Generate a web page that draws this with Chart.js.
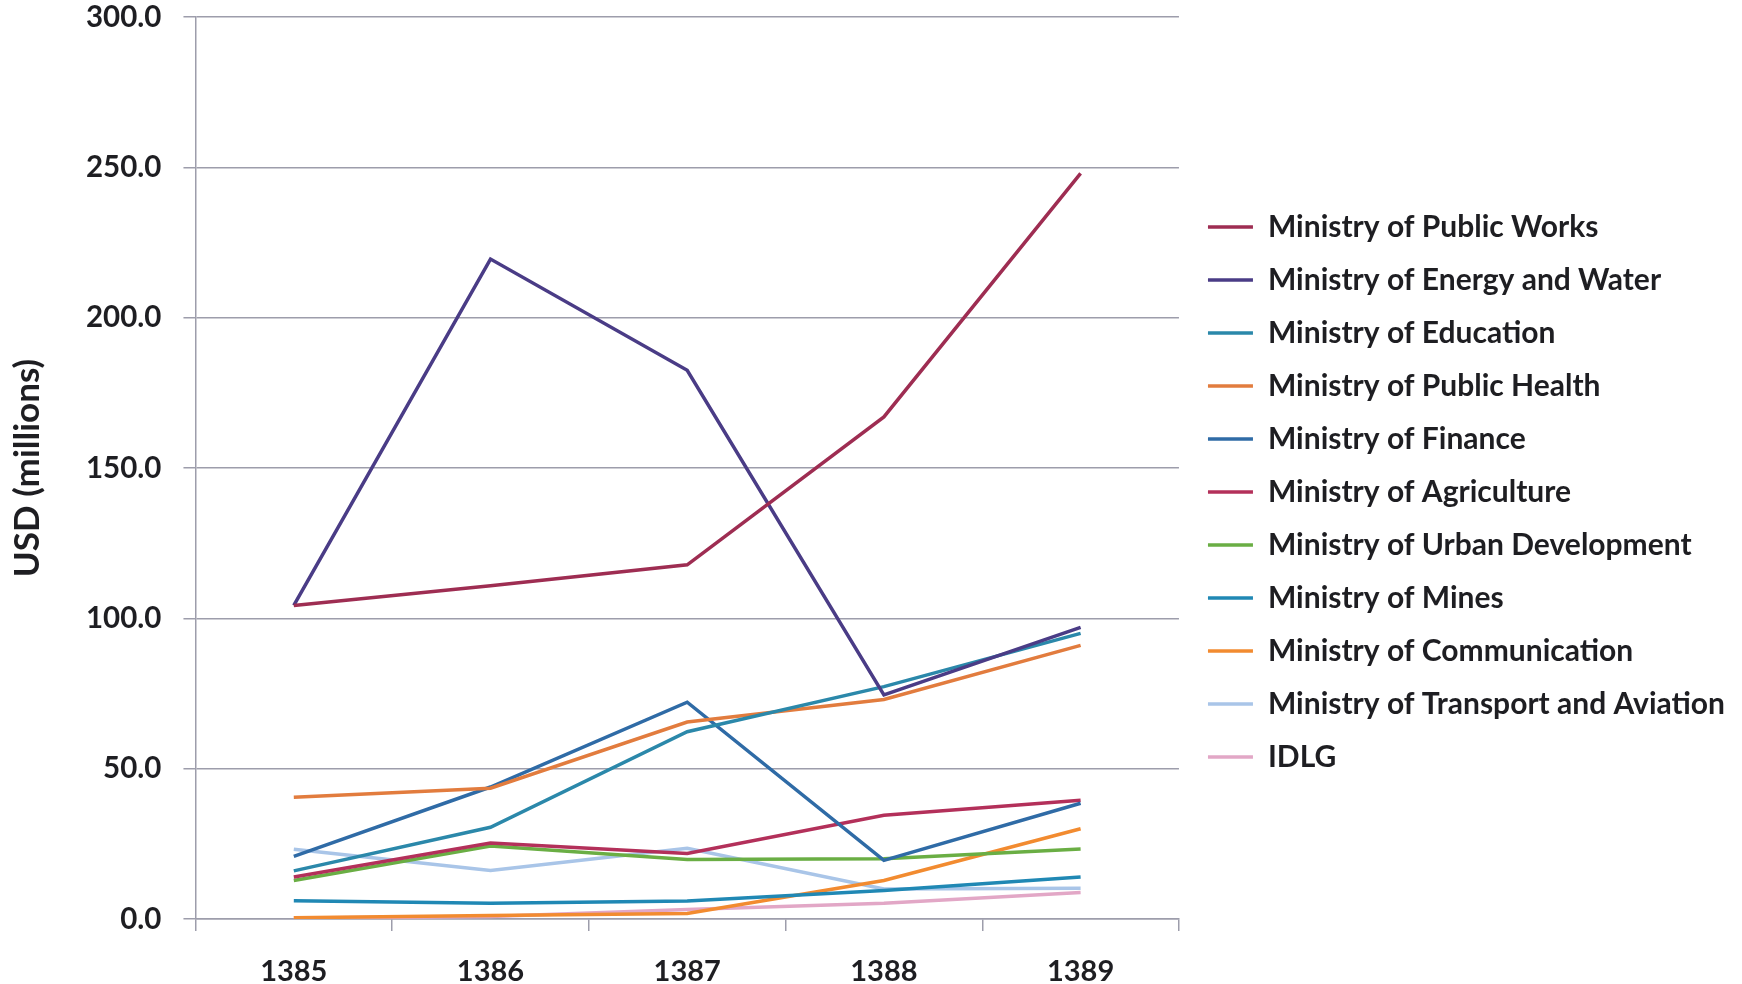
<!DOCTYPE html>
<html>
<head>
<meta charset="utf-8">
<script src="https://cdn.jsdelivr.net/npm/chart.js@4"></script>
<style>
  html, body { margin: 0; padding: 0; background: #ffffff; }
  #wrap { width: 1742px; height: 984px; position: relative; }
</style>
</head>
<body>
<div id="wrap"><canvas id="c"></canvas></div>
<script>
// ---- Data ----
const years = ['1385', '1386', '1387', '1388', '1389'];

const publicWorks    = [104.3, 110.8, 117.8, 167.0, 248.0];
const energyWater    = [104.3, 219.5, 182.5, 74.5, 97.0];
const education      = [16.0, 30.5, 62.3, 77.3, 95.0];
const publicHealth   = [40.5, 43.5, 65.5, 73.0, 91.0];
const finance        = [20.8, 43.9, 72.1, 19.5, 38.5];
const agriculture    = [14.0, 25.3, 21.8, 34.5, 39.5];
const urbanDev       = [12.8, 24.3, 19.8, 20.0, 23.3];
const mines          = [6.1, 5.2, 6.0, 9.5, 14.0];
const communication  = [0.4, 1.2, 1.8, 12.8, 30.0];
const transport      = [23.2, 16.1, 23.5, 10.0, 10.2];
const idlg           = [0.3, 0.8, 3.2, 5.2, 8.8];

const seriesNames = [
  'Ministry of Public Works',
  'Ministry of Energy and Water',
  'Ministry of Education',
  'Ministry of Public Health',
  'Ministry of Finance',
  'Ministry of Agriculture',
  'Ministry of Urban Development',
  'Ministry of Mines',
  'Ministry of Communication',
  'Ministry of Transport and Aviation',
  'IDLG'
];
const seriesValues = [publicWorks, energyWater, education, publicHealth, finance,
  agriculture, urbanDev, mines, communication, transport, idlg];
const seriesColors = ['#9e2d52', '#4a3c86', '#2b88aa', '#e27c3e', '#2f6ba6',
  '#b3305a', '#6aae44', '#2088b4', '#f28b30', '#a9c5e8', '#e2a7c6'];

const yTicks = [0, 50, 100, 150, 200, 250, 300];
const yTitle = 'USD (millions)';

const TXT = '#1e1e22';
const GRID = '#9d9dab';
const FONT = 'Lato, "Open Sans", sans-serif';

const datasets = seriesNames.map((name, i) => ({
  label: name,
  data: seriesValues[i],
  borderColor: seriesColors[i],
  backgroundColor: seriesColors[i],
  borderWidth: 3.5,
  pointRadius: 0,
  pointHoverRadius: 0,
  tension: 0,
  fill: false
}));

new Chart(document.getElementById('c'), {
  type: 'line',
  data: { labels: years, datasets },
  options: {
    responsive: true,
    maintainAspectRatio: false,
    animation: false,
    layout: { padding: { left: 0, top: 0, right: 7, bottom: 0 } },
    plugins: {
      tooltip: { enabled: false },
      legend: {
        position: 'right',
        align: 'center',
        maxWidth: 640,
        labels: {
          usePointStyle: true,
          pointStyle: 'line',
          pointStyleWidth: 45,
          padding: 23,
          color: TXT,
          font: { family: FONT, size: 30, weight: 'bold' }
        }
      }
    },
    scales: {
      x: {
        type: 'category',
        offset: true,
        grid: {
          display: true,
          drawOnChartArea: false,
          drawTicks: true,
          offset: true,
          tickLength: 12,
          color: GRID,
          lineWidth: 1.5
        },
        border: { display: true, color: GRID, width: 1.5 },
        ticks: { color: TXT, font: { family: FONT, size: 29, weight: 'bold' }, padding: 23 },
        afterFit: (s) => { s.height = 65; }
      },
      y: {
        position: 'left',
        min: 0,
        max: 300,
        afterBuildTicks: (s) => { s.ticks = yTicks.map(v => ({ value: v })); },
        ticks: {
          color: TXT,
          font: { family: FONT, size: 29.5, weight: 'bold' },
          padding: 22,
          callback: (v) => Number(v).toFixed(1)
        },
        grid: { color: GRID, lineWidth: 1.5, tickLength: 12 },
        border: { display: true, color: GRID, width: 1.5 },
        title: {
          display: true,
          text: yTitle,
          color: TXT,
          font: { family: FONT, size: 35, weight: 'bold' },
          padding: { top: 7, bottom: 15 }
        },
        afterFit: (s) => { s.paddingTop = 17; s.paddingBottom = 0; }
      },
      gap: {
        position: 'right',
        display: true,
        min: 0,
        max: 1,
        grid: { display: false, drawTicks: false },
        border: { display: false },
        ticks: { display: false },
        afterFit: (s) => { s.width = 6; }
      }
    }
  }
});
</script>
</body>
</html>
